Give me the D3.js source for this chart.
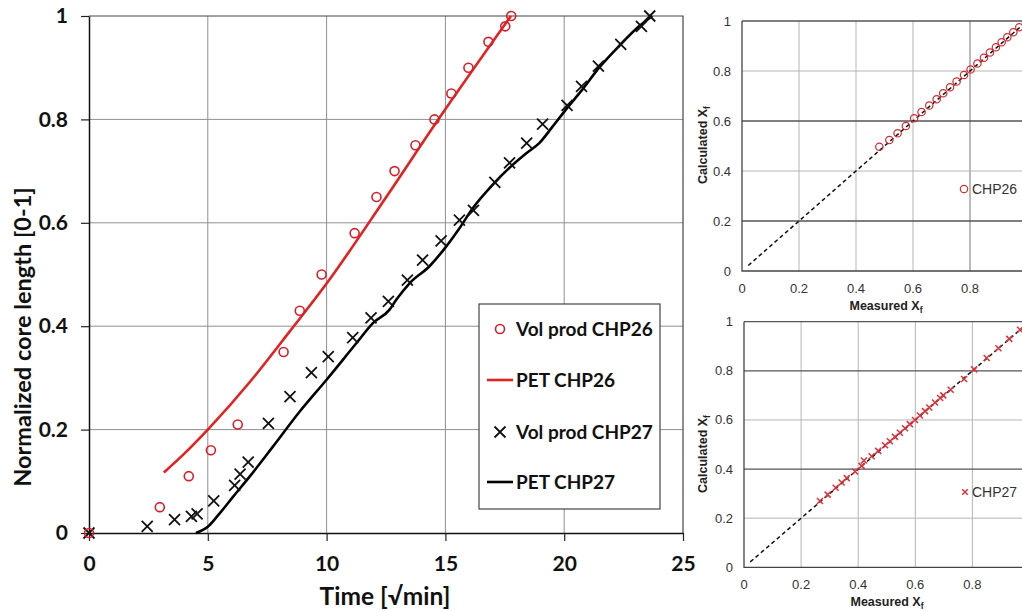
<!DOCTYPE html>
<html>
<head>
<meta charset="utf-8">
<script src="https://cdn.jsdelivr.net/npm/d3@7"></script>
<style>
  body { margin: 0; background: #fff; }
  svg { display: block; }
</style>
</head>
<body>
<svg id="chart" width="1022" height="611"></svg>
<script>
/**** DATA *****/
// main panel: normalized core length vs time [sqrt(min)]
const volProd26T = [0, 2.98, 4.2, 5.13, 6.26, 8.19, 8.87, 9.79, 11.18, 12.1, 12.86, 13.74, 14.54, 15.25, 15.97, 16.81, 17.52, 17.77];
const volProd26Y = [0, 0.05, 0.11, 0.16, 0.21, 0.35, 0.43, 0.50, 0.58, 0.65, 0.70, 0.75, 0.80, 0.85, 0.90, 0.95, 0.98, 1.0];
const pet26T = [3.15, 4.0, 5.0, 6.84, 8.45, 9.96, 12.44, 14.75, 17.76];
const pet26Y = [0.117, 0.153, 0.2, 0.296, 0.39, 0.48, 0.645, 0.803, 1.0];
const volProd27T = [0, 2.45, 3.6, 4.31, 4.55, 5.25, 6.13, 6.36, 6.7, 7.55, 8.46, 9.36, 10.07, 11.1, 11.87, 12.6, 13.4, 14.04, 14.82, 15.59, 16.18, 17.08, 17.7, 18.42, 19.09, 20.12, 20.73, 21.44, 22.38, 23.25, 23.6];
const volProd27Y = [0, 0.013, 0.026, 0.032, 0.037, 0.062, 0.092, 0.114, 0.137, 0.212, 0.264, 0.31, 0.341, 0.378, 0.416, 0.448, 0.489, 0.528, 0.565, 0.605, 0.624, 0.678, 0.716, 0.754, 0.791, 0.827, 0.864, 0.903, 0.945, 0.98, 1.0];
const pet27T = [4.5, 5.0, 5.5, 6.06, 6.76, 7.74, 8.87, 9.99, 11.25, 11.95, 12.65, 12.93, 13.49, 14.33, 15.03, 15.6, 16.15, 17.06, 17.83, 18.42, 18.95, 19.51, 20.07, 20.77, 21.47, 22.31, 23.15, 23.71];
const pet27Y = [0, 0.012, 0.038, 0.07, 0.109, 0.167, 0.235, 0.296, 0.367, 0.406, 0.432, 0.451, 0.483, 0.516, 0.554, 0.59, 0.628, 0.677, 0.712, 0.735, 0.754, 0.786, 0.819, 0.858, 0.9, 0.942, 0.98, 1.0];
const timeTicks = [0, 5, 10, 15, 20, 25];
const lengthTicks = [0, 0.2, 0.4, 0.6, 0.8, 1];

// side panels: calculated vs measured Xf
const measured26 = [0.482, 0.517, 0.546, 0.575, 0.604, 0.630, 0.657, 0.683, 0.706, 0.730, 0.753, 0.779, 0.802, 0.826, 0.849, 0.870, 0.891, 0.911, 0.931, 0.952, 0.973];
const calculated26 = [0.497, 0.524, 0.551, 0.580, 0.611, 0.636, 0.662, 0.687, 0.711, 0.735, 0.758, 0.784, 0.806, 0.830, 0.853, 0.874, 0.895, 0.915, 0.935, 0.955, 0.975];
const measured27 = [0.266, 0.293, 0.321, 0.342, 0.36, 0.389, 0.412, 0.42, 0.447, 0.47, 0.494, 0.511, 0.529, 0.546, 0.564, 0.581, 0.599, 0.616, 0.634, 0.649, 0.669, 0.687, 0.698, 0.724, 0.771, 0.806, 0.85, 0.891, 0.929, 0.967];
const calculated27 = [0.27, 0.296, 0.324, 0.345, 0.363, 0.39, 0.413, 0.435, 0.452, 0.474, 0.497, 0.513, 0.531, 0.548, 0.566, 0.583, 0.6, 0.618, 0.636, 0.651, 0.671, 0.689, 0.7, 0.723, 0.767, 0.806, 0.852, 0.892, 0.93, 0.967];
const xfTicks = [0, 0.2, 0.4, 0.6, 0.8];
const xfYTicks = [0, 0.2, 0.4, 0.6, 0.8, 1];
const parityLine = [0.022, 1];

const svg = d3.select('#chart');
const RED = '#e3211f';
const MAIN_FONT = 'Lato, "Open Sans", sans-serif';
const SIDE_FONT = '"Liberation Sans", Arial, sans-serif';
const zip = (a, b) => a.map((d, i) => [d, b[i]]);

function crossPath(s) {
	return `M${-s},${-s}L${s},${s}M${-s},${s}L${s},${-s}`;
}

/**** MAIN CHART *****/
const x = d3.scaleLinear().domain([0, 25]).range([89, 683]);
const y = d3.scaleLinear().domain([0, 1]).range([533, 16]);
const main = svg.append('g');

// grid
main.append('g').selectAll('line').data([5, 10, 15, 20]).join('line')
	.attr('x1', d => x(d)).attr('x2', d => x(d)).attr('y1', y(0)).attr('y2', y(1))
	.attr('stroke', '#8f8f8f').attr('stroke-width', 1);
main.append('g').selectAll('line').data([0.2, 0.4, 0.6, 0.8]).join('line')
	.attr('x1', x(0)).attr('x2', x(25)).attr('y1', d => y(d)).attr('y2', d => y(d))
	.attr('stroke', '#8f8f8f').attr('stroke-width', 1);
// top + right frame
main.append('path')
	.attr('d', `M${x(0)},${y(1)}H${x(25)}V${y(0)}`)
	.attr('fill', 'none').attr('stroke', '#444').attr('stroke-width', 1.2);

const yAxis = main.append('g').attr('transform', `translate(${x(0)},0)`)
	.call(d3.axisLeft(y).tickValues(lengthTicks).tickFormat(d3.format('~g')).tickSize(8).tickSizeOuter(0).tickPadding(13));
const xAxis = main.append('g').attr('transform', `translate(0,${y(0)})`)
	.call(d3.axisBottom(x).tickValues(timeTicks).tickSize(8).tickSizeOuter(0).tickPadding(15));
[yAxis, xAxis].forEach(a => {
	a.select('.domain').attr('stroke', '#111').attr('stroke-width', 1.5);
	a.selectAll('line').attr('stroke', '#222').attr('stroke-width', 1.2);
	a.selectAll('text').attr('font-family', MAIN_FONT).attr('font-weight', 'bold')
		.attr('font-size', 21).attr('fill', '#111');
});

main.append('text').text('Normalized core length [0-1]')
	.attr('transform', 'translate(31,337) rotate(-90)')
	.attr('text-anchor', 'middle').attr('font-family', MAIN_FONT).attr('font-weight', 'bold')
	.attr('font-size', 23.5).attr('fill', '#111');
main.append('text').text('Time [\u221Amin]')
	.attr('x', 385).attr('y', 605)
	.attr('text-anchor', 'middle').attr('font-family', MAIN_FONT).attr('font-weight', 'bold')
	.attr('font-size', 24.5).attr('fill', '#111');

const line = d3.line().x(d => x(d[0])).y(d => y(d[1])).curve(d3.curveMonotoneX);
main.append('path').datum(zip(pet26T, pet26Y))
	.attr('d', line).attr('fill', 'none').attr('stroke', RED).attr('stroke-width', 2.6);
main.append('path').datum(zip(pet27T, pet27Y))
	.attr('d', line).attr('fill', 'none').attr('stroke', '#000').attr('stroke-width', 2.6);

main.append('g').selectAll('path').data(zip(volProd27T, volProd27Y)).join('path')
	.attr('transform', d => `translate(${x(d[0])},${y(d[1])})`)
	.attr('d', crossPath(5.5)).attr('stroke', '#111').attr('stroke-width', 1.8).attr('fill', 'none');
main.append('g').selectAll('circle').data(zip(volProd26T, volProd26Y)).join('circle')
	.attr('cx', d => x(d[0])).attr('cy', d => y(d[1])).attr('r', 4.5)
	.attr('fill', 'none').attr('stroke', '#d4202c').attr('stroke-width', 1.6);

// legend
const legend = main.append('g');
legend.append('rect').attr('x', 479).attr('y', 304).attr('width', 181).attr('height', 205)
	.attr('fill', '#fff').attr('stroke', '#444').attr('stroke-width', 1.2);
const legendItems = ['Vol prod CHP26', 'PET CHP26', 'Vol prod CHP27', 'PET CHP27'];
const legendY = [329, 380, 432, 482];
legendItems.forEach((name, i) => {
	const g = legend.append('g').attr('transform', `translate(500,${legendY[i]})`);
	if (i === 0) g.append('circle').attr('r', 4.5).attr('fill', 'none').attr('stroke', '#d4202c').attr('stroke-width', 1.6);
	if (i === 1) g.append('line').attr('x1', -13).attr('x2', 13).attr('stroke', RED).attr('stroke-width', 2.6);
	if (i === 2) g.append('path').attr('d', crossPath(5.5)).attr('stroke', '#111').attr('stroke-width', 1.8);
	if (i === 3) g.append('line').attr('x1', -13).attr('x2', 13).attr('stroke', '#000').attr('stroke-width', 2.6);
	g.append('text').text(name).attr('x', 16).attr('dy', '0.35em')
		.attr('font-family', MAIN_FONT).attr('font-weight', 'bold').attr('font-size', 19).attr('fill', '#111');
});

/**** SIDE PANELS *****/
function drawPanel(cfg) {
	const px = d3.scaleLinear().domain([0, 1]).range(cfg.xRange);
	const py = d3.scaleLinear().domain([0, 1]).range(cfg.yRange);
	const g = svg.append('g');

	g.append('g').selectAll('line').data([0.2, 0.4, 0.6, 0.8]).join('line')
		.attr('x1', d => px(d)).attr('x2', d => px(d)).attr('y1', py(0)).attr('y2', py(1))
		.attr('stroke', d => cfg.darkV.includes(d) ? '#777' : '#b5b5b5');
	g.append('g').selectAll('line').data([0.2, 0.4, 0.6, 0.8, 1]).join('line')
		.attr('x1', px(0)).attr('x2', 1022).attr('y1', d => py(d)).attr('y2', d => py(d))
		.attr('stroke', d => cfg.darkH.includes(d) ? '#555' : '#b5b5b5')
		.attr('stroke-width', d => cfg.darkH.includes(d) ? 1.3 : 1);
	g.append('path').attr('d', `M${px(0)},${py(1)}V${py(0)}H1022`)
		.attr('fill', 'none').attr('stroke', '#444').attr('stroke-width', 1.3);

	g.append('g').selectAll('text').data(xfYTicks).join('text')
		.text(d3.format('~g')).attr('x', px(0) - 11).attr('y', d => py(d)).attr('dy', '0.35em')
		.attr('text-anchor', 'end').attr('font-family', SIDE_FONT).attr('font-size', 13).attr('fill', '#333');
	g.append('g').selectAll('text').data(xfTicks).join('text')
		.text(d3.format('~g')).attr('x', d => px(d)).attr('y', py(0) + 22)
		.attr('text-anchor', 'middle').attr('font-family', SIDE_FONT).attr('font-size', 13).attr('fill', '#333');

	const xt = g.append('text').attr('x', cfg.xTitle[0]).attr('y', cfg.xTitle[1])
		.attr('text-anchor', 'middle').attr('font-family', SIDE_FONT).attr('font-weight', 'bold')
		.attr('font-size', 12.5).attr('fill', '#222');
	xt.append('tspan').text('Measured X');
	xt.append('tspan').text('f').attr('font-size', 8.5).attr('dy', 3);
	const yt = g.append('text').attr('transform', `translate(${cfg.yTitle[0]},${cfg.yTitle[1]}) rotate(-90)`)
		.attr('text-anchor', 'middle').attr('font-family', SIDE_FONT).attr('font-weight', 'bold')
		.attr('font-size', 12.5).attr('fill', '#222');
	yt.append('tspan').text('Calculated X');
	yt.append('tspan').text('f').attr('font-size', 8.5).attr('dy', 3);

	g.append('line')
		.attr('x1', px(parityLine[0])).attr('y1', py(parityLine[0]))
		.attr('x2', px(parityLine[1])).attr('y2', py(parityLine[1]))
		.attr('stroke', '#111').attr('stroke-width', 1.5).attr('stroke-dasharray', '4,3');

	const pts = zip(cfg.measured, cfg.calculated);
	if (cfg.marker === 'circle') {
		g.append('g').selectAll('circle').data(pts).join('circle')
			.attr('cx', d => px(d[0])).attr('cy', d => py(d[1])).attr('r', 3.7)
			.attr('fill', 'none').attr('stroke', '#d42a32').attr('stroke-width', 1.2);
		g.append('circle').attr('cx', 964).attr('cy', cfg.legendY).attr('r', 3.7)
			.attr('fill', 'none').attr('stroke', '#d42a32').attr('stroke-width', 1.2);
	} else {
		g.append('g').selectAll('path').data(pts).join('path')
			.attr('transform', d => `translate(${px(d[0])},${py(d[1])})`)
			.attr('d', crossPath(3)).attr('stroke', '#d9343c').attr('stroke-width', 1.5);
		g.append('path').attr('transform', `translate(965,${cfg.legendY})`)
			.attr('d', crossPath(2.8)).attr('stroke', '#d9343c').attr('stroke-width', 1.5);
	}
	g.append('text').text(cfg.name).attr('x', 972).attr('y', cfg.legendY).attr('dy', '0.35em')
		.attr('font-family', SIDE_FONT).attr('font-size', 14).attr('fill', '#333');
}

drawPanel({
	xRange: [742, 1027], yRange: [271, 21],
	darkH: [0.2, 0.6, 1], darkV: [0.8],
	xTitle: [886, 310], yTitle: [707, 145],
	measured: measured26, calculated: calculated26,
	marker: 'circle', name: 'CHP26', legendY: 189
});
drawPanel({
	xRange: [744, 1029.5], yRange: [567.3, 321.7],
	darkH: [0.4, 0.8, 1], darkV: [],
	xTitle: [887, 606], yTitle: [707, 454],
	measured: measured27, calculated: calculated27,
	marker: 'cross', name: 'CHP27', legendY: 492
});
</script>
</body>
</html>
